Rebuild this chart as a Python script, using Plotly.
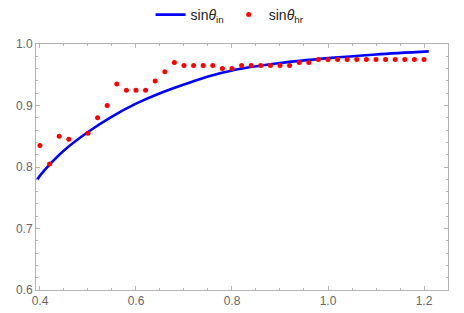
import plotly.graph_objects as go

# Smooth curve sin(theta_in)
curve_x = [0.394, 0.40, 0.42, 0.45, 0.50, 0.55, 0.60, 0.65, 0.70, 0.75, 0.80, 0.90, 1.00, 1.10, 1.21]
curve_y = [0.779, 0.786, 0.804, 0.827, 0.857, 0.882, 0.903, 0.920, 0.934, 0.947, 0.957, 0.969, 0.977, 0.983, 0.988]

# Discrete points sin(theta_hr)
dots_x = [0.40, 0.42, 0.44, 0.46, 0.50, 0.52, 0.54, 0.56, 0.58, 0.60,
          0.62, 0.64, 0.66, 0.68, 0.70, 0.72, 0.74, 0.76, 0.78, 0.80,
          0.82, 0.84, 0.86, 0.88, 0.90, 0.92, 0.94, 0.96, 0.98, 1.00,
          1.02, 1.04, 1.06, 1.08, 1.10, 1.12, 1.14, 1.16, 1.18, 1.20]
dots_y = [0.835, 0.805, 0.850, 0.845, 0.855, 0.880, 0.900, 0.935, 0.925, 0.925,
          0.925, 0.940, 0.955, 0.970, 0.965, 0.965, 0.965, 0.965, 0.960, 0.960,
          0.965, 0.965, 0.965, 0.965, 0.965, 0.965, 0.970, 0.970, 0.975, 0.975,
          0.975, 0.975, 0.975, 0.975, 0.975, 0.975, 0.975, 0.975, 0.975, 0.975]

x_ticks = [0.4, 0.6, 0.8, 1.0, 1.2]
y_ticks = [0.6, 0.7, 0.8, 0.9, 1.0]

fig = go.Figure()
fig.add_trace(go.Scatter(
    x=curve_x, y=curve_y, mode="lines", line=dict(color="#0000ff", width=2.6, shape="spline", smoothing=1.0),
    name="sin<i>θ</i><sub>in</sub>"))
fig.add_trace(go.Scatter(
    x=dots_x, y=dots_y, mode="markers", marker=dict(color="#ff0000", size=5),
    name="sin<i>θ</i><sub>hr</sub>"))

axis_common = dict(
    showgrid=False, zeroline=False, showline=True, linecolor="#b4b4b4", linewidth=1,
    mirror="ticks", ticks="inside", ticklen=4, tickcolor="#b4b4b4", tickwidth=1,
    tickfont=dict(family="Liberation Sans, Arial, sans-serif", size=12, color="#666666"),
)
fig.update_xaxes(range=[0.3917, 1.25], tickvals=x_ticks, ticktext=[f"{v:.1f}" for v in x_ticks],
                 minor=dict(dtick=0.05, tick0=0.4, ticks="inside", ticklen=2, tickcolor="#b4b4b4"),
                 **axis_common)
fig.update_yaxes(range=[0.6, 1.0], tickvals=y_ticks, ticktext=[f"{v:.1f}" for v in y_ticks],
                 minor=dict(dtick=0.02, tick0=0.6, ticks="inside", ticklen=2, tickcolor="#b4b4b4"),
                 **axis_common)

# the page body adds an 8px offset, so the figure is sized to fit inside the window
fig.update_layout(
    width=456, height=305,
    margin=dict(l=28, r=16, t=36, b=23, autoexpand=False),
    plot_bgcolor="white", paper_bgcolor="white",
    showlegend=True,
    legend=dict(orientation="h", x=0.487, xanchor="center", xref="container",
                y=0.977, yanchor="middle", yref="container",
                font=dict(family="Liberation Sans, Arial, sans-serif", size=14, color="#222222"),
                itemwidth=30, tracegroupgap=0),
)
fig.write_html("out.html")
